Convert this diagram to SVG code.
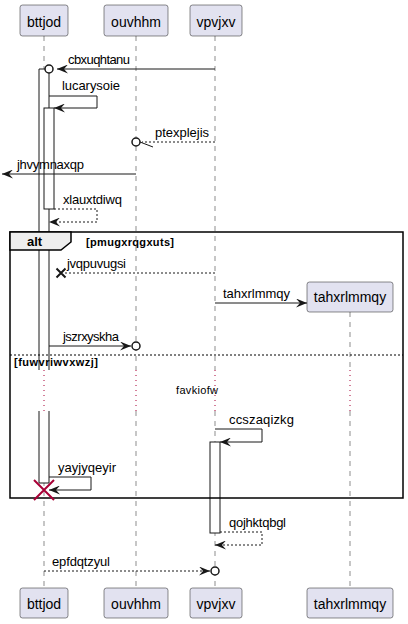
<svg xmlns="http://www.w3.org/2000/svg" width="408" height="624" viewBox="0 0 408 624">
<style>
text{font-family:"Liberation Sans",Arial,sans-serif;fill:#000}
.pt{font-size:14px}
.msg{font-size:13px}
.g{font-size:11px;font-weight:bold}
.pbox{fill:#E2E2F0;stroke:#181818;stroke-width:0.5}
.life{stroke:#181818;stroke-width:0.5;stroke-dasharray:5,5;fill:none}
.delay{stroke:#A80036;stroke-width:1;stroke-dasharray:1,4;fill:none}
.act{fill:#FFFFFF;stroke:#181818;stroke-width:1}
.m{stroke:#181818;stroke-width:1;fill:none}
.d{stroke-dasharray:2,2}
.circ{fill:#FFFFFF;stroke:#181818;stroke-width:1.5}
</style>
<defs>
<marker id="ah" viewBox="0 0 11 9" refX="11" refY="4.5" markerWidth="11" markerHeight="9" markerUnits="userSpaceOnUse" orient="auto">
<path d="M0,0 L11,4.5 L0,9 L4,4.5 Z" fill="#181818"/>
</marker>
</defs>
<rect width="408" height="624" fill="#FFFFFF"/>
<g id="lifelines">
<path class="life" d="M44,36 V370 M44,411 V588 M136,36 V370 M136,411 V588 M215,36 V370 M215,411 V588 M350,312 V370 M350,411 V588"/>
<path class="delay" d="M44,370 V411 M136,370 V411 M215,370 V411 M350,370 V411"/>
</g>
<g id="activations">
<rect x="39" y="69" width="10" height="301" fill="#FFFFFF"/>
<path class="m" d="M39,370 V69 H49 V370"/>
<rect x="39" y="411" width="10" height="72" fill="#FFFFFF"/>
<path class="m" d="M39,411 V483 H49 V411"/>
<rect x="44" y="108" width="10" height="101" class="act"/>
<rect x="210" y="442" width="10" height="91" class="act"/>
</g>
<g id="alt-frame">
<rect x="10" y="232" width="393" height="266" fill="none" stroke="#000" stroke-width="1.5"/>
<path d="M10,232 H71 V242 L61,250 H10 Z" fill="#EEEEEE" stroke="#000" stroke-width="1.5"/>
<text x="27" y="246" style="font-size:13px;font-weight:bold">alt</text>
<text class="g" x="86" y="246" textLength="88" lengthAdjust="spacing">[pmugxrqgxuts]</text>
<line x1="10" y1="355" x2="403" y2="355" stroke="#000" stroke-width="1" stroke-dasharray="2,2"/>
<text class="g" x="14" y="366" textLength="84" lengthAdjust="spacing">[fuwvriwvxwzj]</text>
</g>
<g id="connectors">
<line class="m" x1="215" y1="69" x2="57" y2="69" marker-end="url(#ah)"/>
<circle class="circ" cx="49" cy="69" r="4"/>
<text class="msg" x="68" y="64" textLength="62" lengthAdjust="spacing">cbxuqhtanu</text>

<path class="m" d="M49,96 H97 V108 H54" marker-end="url(#ah)"/>
<text class="msg" x="62" y="90" textLength="58" lengthAdjust="spacing">lucarysoie</text>

<line class="m d" x1="215" y1="142" x2="142" y2="142"/>
<line class="m" x1="140" y1="142" x2="153" y2="147"/>
<circle class="circ" cx="136" cy="142" r="4"/>
<text class="msg" x="155" y="137" textLength="54" lengthAdjust="spacing">ptexplejis</text>

<line class="m" x1="136" y1="174" x2="2" y2="174" marker-end="url(#ah)"/>
<text class="msg" x="17" y="169" textLength="67" lengthAdjust="spacing">jhvymnaxqp</text>

<path class="m d" d="M54,209 H97 V222 H49" marker-end="url(#ah)"/>
<text class="msg" x="63" y="204" textLength="59" lengthAdjust="spacing">xlauxtdiwq</text>

<line class="m d" x1="215" y1="273" x2="63" y2="273"/>
<path d="M56.5,268.5 L65.5,277.5 M56.5,277.5 L65.5,268.5" stroke="#181818" stroke-width="2"/>
<text class="msg" x="67" y="268" textLength="59" lengthAdjust="spacing">jvqpuvugsi</text>

<line class="m" x1="215" y1="303" x2="307" y2="303" marker-end="url(#ah)"/>
<text class="msg" x="223" y="298" textLength="67" lengthAdjust="spacing">tahxrlmmqy</text>

<line class="m" x1="49" y1="346" x2="131" y2="346" marker-end="url(#ah)"/>
<circle class="circ" cx="136" cy="346" r="4"/>
<text class="msg" x="63" y="341" textLength="56" lengthAdjust="spacing">jszrxyskha</text>

<text x="176" y="394" style="font-size:11px" textLength="42" lengthAdjust="spacing">favkiofw</text>

<path class="m" d="M215,429 H262 V442 H220" marker-end="url(#ah)"/>
<text class="msg" x="229" y="424" textLength="65" lengthAdjust="spacing">ccszaqizkg</text>

<path class="m" d="M49,477 H91 V490 H49" marker-end="url(#ah)"/>
<text class="msg" x="58" y="472" textLength="58" lengthAdjust="spacing">yayjyqeyir</text>
<path d="M34,480 L54,500 M34,500 L54,480" stroke="#A80036" stroke-width="2"/>

<path class="m d" d="M220,532 H262 V545 H215" marker-end="url(#ah)"/>
<text class="msg" x="229" y="527" textLength="57" lengthAdjust="spacing">qojhktqbgl</text>

<line class="m d" x1="44" y1="571" x2="210" y2="571" marker-end="url(#ah)"/>
<circle class="circ" cx="215" cy="571" r="4"/>
<text class="msg" x="52" y="566" textLength="58" lengthAdjust="spacing">epfdqtzyul</text>
</g>
<g id="p-bttjod">
<rect class="pbox" x="20" y="5" width="48" height="31" rx="2.5"/>
<text class="pt" x="44" y="27" text-anchor="middle">bttjod</text>
<rect class="pbox" x="20" y="588" width="48" height="30" rx="2.5"/>
<text class="pt" x="44" y="609" text-anchor="middle">bttjod</text>
</g>
<g id="p-ouvhhm">
<rect class="pbox" x="104" y="5" width="64" height="31" rx="2.5"/>
<text class="pt" x="136" y="27" text-anchor="middle">ouvhhm</text>
<rect class="pbox" x="104" y="588" width="64" height="30" rx="2.5"/>
<text class="pt" x="136" y="609" text-anchor="middle">ouvhhm</text>
</g>
<g id="p-vpvjxv">
<rect class="pbox" x="190" y="5" width="52" height="31" rx="2.5"/>
<text class="pt" x="216" y="27" text-anchor="middle">vpvjxv</text>
<rect class="pbox" x="190" y="588" width="52" height="30" rx="2.5"/>
<text class="pt" x="216" y="609" text-anchor="middle">vpvjxv</text>
</g>
<g id="p-tahxrlmmqy">
<rect class="pbox" x="307" y="282" width="86" height="30" rx="2.5"/>
<text class="pt" x="350" y="302" text-anchor="middle">tahxrlmmqy</text>
<rect class="pbox" x="307" y="588" width="86" height="30" rx="2.5"/>
<text class="pt" x="350" y="609" text-anchor="middle">tahxrlmmqy</text>
</g>
</svg>
